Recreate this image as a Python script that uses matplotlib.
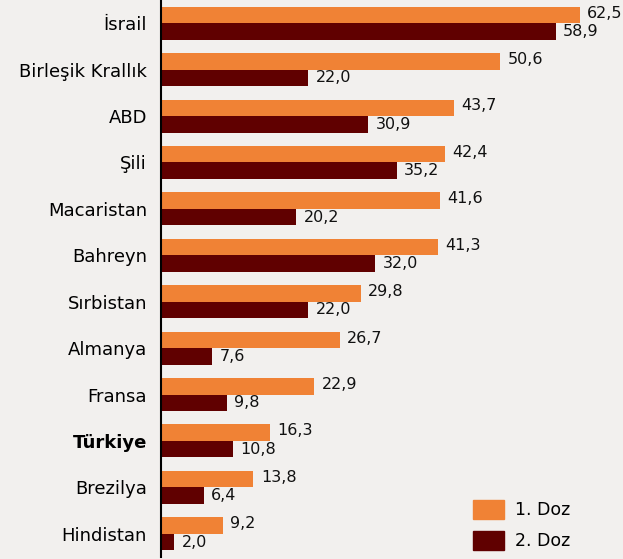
import numpy as np
import matplotlib
matplotlib.use("Agg")
import matplotlib.pyplot as plt
from matplotlib.patches import Patch

countries = ["İsrail", "Birleşik Krallık", "ABD", "Şili", "Macaristan", "Bahreyn",
             "Sırbistan", "Almanya", "Fransa", "Türkiye", "Brezilya", "Hindistan"]
doz1 = [62.5, 50.6, 43.7, 42.4, 41.6, 41.3, 29.8, 26.7, 22.9, 16.3, 13.8, 9.2]
doz2 = [58.9, 22.0, 30.9, 35.2, 20.2, 32.0, 22.0, 7.6, 9.8, 10.8, 6.4, 2.0]

ORANGE = "#F08235"
DARKRED = "#600000"
BG = "#F2F0EE"

fig = plt.figure(figsize=(6.23, 5.59), dpi=100, facecolor=BG)
ax = fig.add_axes([161 / 623, 2 / 559, 462 / 623, 557 / 559], facecolor=BG)

y = np.arange(len(countries))
h = 0.355
ax.barh(y - h / 2, doz1, height=h, color=ORANGE)
ax.barh(y + h / 2, doz2, height=h, color=DARKRED)

def fmt(v):
    return f"{v:.1f}".replace(".", ",")

for yi, v1, v2 in zip(y, doz1, doz2):
    ax.text(v1 + 1.1, yi - h / 2 - 0.04, fmt(v1), va="center", ha="left", fontsize=11.5, color="#111111")
    ax.text(v2 + 1.1, yi + h / 2, fmt(v2), va="center", ha="left", fontsize=11.5, color="#111111")

ax.set_xlim(0, 462 / 6.70)
ax.set_ylim(11.5, -0.5)
ax.set_yticks(y)
ax.set_yticklabels(countries, fontsize=13)
for lab in ax.get_yticklabels():
    if lab.get_text() == "Türkiye":
        lab.set_fontweight("bold")
ax.tick_params(axis="y", length=0, pad=10)
ax.set_xticks([])
for s in ["top", "right", "bottom"]:
    ax.spines[s].set_visible(False)
ax.spines["left"].set_linewidth(1.5)

handles = [Patch(color=ORANGE, label="1. Doz"), Patch(color=DARKRED, label="2. Doz")]
ax.legend(handles=handles, loc="lower right", frameon=False, fontsize=12.5,
          handlelength=1.8, handleheight=1.35, handletextpad=0.6, labelspacing=0.65,
          borderpad=0, borderaxespad=0, bbox_to_anchor=(0.885, 0.012))

fig.savefig("out.png", dpi=100, facecolor=BG)
